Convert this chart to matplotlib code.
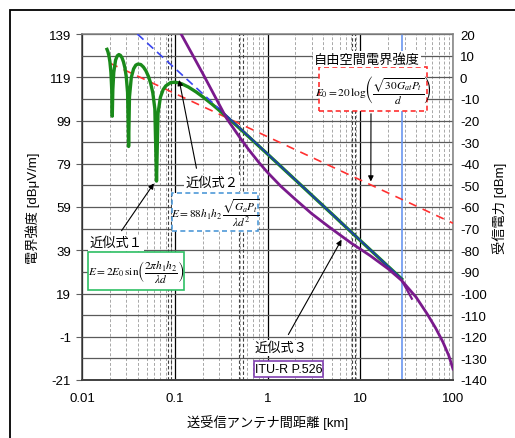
import numpy as np
import matplotlib
matplotlib.use("Agg")
import matplotlib.pyplot as plt
from matplotlib.patches import Rectangle
from matplotlib.ticker import FixedLocator, NullFormatter

plt.rcParams['font.family'] = ['Liberation Sans', 'Noto Sans CJK JP']
plt.rcParams['mathtext.fontset'] = 'stix'
plt.rcParams['axes.unicode_minus'] = False

# ---- data: distance [km] vs field strength [dBuV/m] ----
free_d = [0.02, 100]
free_e = [125.5, 51.5]

approx2_d = [0.0395, 0.3, 28]
approx2_e = [139.0, 104.5, 25.7]

approx1_d = [0.0186, 0.019, 0.0195, 0.020, 0.0205, 0.0209, 0.0212, 0.0215, 0.022,
             0.023, 0.024, 0.025, 0.026, 0.027, 0.028, 0.029, 0.030, 0.031, 0.0318,
             0.0325, 0.034, 0.036, 0.038, 0.040, 0.043, 0.046, 0.049, 0.052, 0.055,
             0.058, 0.061, 0.0636, 0.066, 0.07, 0.075, 0.08, 0.09, 0.10, 0.11, 0.12,
             0.14, 0.17, 0.2, 0.25, 0.3, 0.4, 0.5, 0.7, 1, 2, 5, 10, 28]
approx1_e = [131.9, 130.9, 129.0, 126.1, 121.3, 113.7, 101.0, 113.3, 121.2,
             126.9, 128.9, 129.5, 129.1, 128.0, 126.1, 123.4, 119.3, 111.9, 87.0,
             109.9, 118.9, 122.9, 124.6, 125.1, 124.9, 123.7, 121.9, 119.4, 116.2,
             111.8, 104.4, 71.0, 102.3, 109.7, 113.3, 115.0, 116.5, 116.7, 116.4, 115.9,
             114.5, 112.2, 110.0, 106.7, 103.8, 99.1, 95.4, 89.6, 83.5, 71.5, 55.6, 43.5, 25.7]

itu_d = [0.115, 0.15, 0.2, 0.27, 0.362, 0.5, 0.62, 0.8, 1.0, 1.4, 2.0, 3.0, 4.7,
         8.0, 12.7, 20, 28, 40, 52.6, 65, 78, 90, 100]
itu_e = [139.6, 130.6, 120.8, 110.3, 100.0, 91.3, 85.8, 79.8, 75.0, 68.5, 62.5, 55.9,
         49.5, 42.3, 36.6, 30.4, 25.0, 17.3, 9.6, 3.0, -3.5, -9.7, -15.9]
itu_hook_d = [28, 32, 36]
itu_hook_e = [25.0, 20.6, 16.6]

marker_km = 28
extra_lines_km = [0.085, 0.091, 0.49, 0.54, 8.1, 8.8]

left_ticks = np.arange(-21, 140, 20)
right_ticks = np.arange(-140, 21, 10)

W, H = 515, 439
fig = plt.figure(figsize=(W / 100, H / 100), dpi=100)

def fx(x):
    return x / W

def fy(y):
    return 1 - y / H

ax = fig.add_axes([fx(82), fy(381), fx(453) - fx(82), fy(35) - fy(381)])
ax.set_xscale('log')
ax.set_xlim(0.01, 100)
ax.set_ylim(-21, 139)

# grid
ax.set_yticks(left_ticks)
ax.yaxis.set_minor_locator(FixedLocator(np.arange(-11, 139, 20)))
ax.grid(True, which='both', axis='y', color='#5a5a5a', lw=0.9)
ax.grid(True, which='major', axis='x', color='black', lw=0.9)
ax.grid(True, which='minor', axis='x', color='#a8a8a8', lw=0.7, ls=(0, (3, 2)))
for xv in extra_lines_km:
    ax.axvline(xv, color='#404040', lw=0.8, ls=(0, (3, 2)), zorder=0.9)
ax.set_axisbelow(True)
ax.xaxis.set_minor_formatter(NullFormatter())
ax.set_xticks([0.01, 0.1, 1, 10, 100])
ax.set_xticklabels(['0.01', '0.1', '1', '10', '100'])
ax.tick_params(axis='x', which='both', length=0, pad=9, labelsize=9.5)
ax.tick_params(axis='y', which='major', length=4, color='#606060', pad=4, labelsize=9.5)
ax.tick_params(axis='y', which='minor', length=0)
for s in ax.spines.values():
    s.set_color('#808080')
    s.set_linewidth(1.1)
ax.spines['bottom'].set_color('#404040')
ax.spines['bottom'].set_linewidth(1.4)
ax.spines['left'].set_color('#404040')

# curves
ax.axvline(marker_km, color='#6a96f0', lw=1.2, zorder=2)
ax.plot(free_d, free_e, color='#ff3030', lw=1.2, ls=(0, (5, 4)), zorder=3)
ax.plot(approx1_d, approx1_e, color='#1a8a1a', lw=2.4, zorder=4)
ax.plot(approx2_d[:2], approx2_e[:2], color='#3a46f0', lw=1.2, ls=(0, (5, 3)), zorder=5)
ax.plot(approx2_d[1:], approx2_e[1:], color='#1f3fa8', lw=1.3, zorder=5)
ax.plot(itu_d, itu_e, color='#7a1a8c', lw=2.0, zorder=6)
ax.plot(itu_hook_d, itu_hook_e, color='#7a1a8c', lw=1.6, zorder=6)

ax.set_xlabel('送受信アンテナ間距離 [km]', fontsize=9.5, labelpad=7)
ax.set_ylabel('電界強度 [dBμV/m]', fontsize=9.5, labelpad=6)

ax2 = ax.twinx()
ax2.set_ylim(-140, 20)
ax2.set_yticks(right_ticks)
ax2.tick_params(axis='y', length=0, pad=5, labelsize=9.5)
for s in ax2.spines.values():
    s.set_visible(False)
ax2.set_ylabel('受信電力 [dBm]', fontsize=9.5, labelpad=4)

# outer frame (cut off at right and bottom)
fig.patches.append(Rectangle((fx(10), fy(460)), 1.2, fy(11) - fy(460), transform=fig.transFigure,
                             fill=False, ec='black', lw=1.3))

# annotation boxes
def box(x0, y0, x1, y1, ec, ls='-'):
    fig.patches.append(Rectangle((fx(x0), fy(y1)), fx(x1) - fx(x0), fy(y0) - fy(y1),
                                 transform=fig.transFigure, fc='white', ec=ec, lw=1.2,
                                 ls=ls, zorder=7))

box(88, 253, 184, 291, '#2fc065')
fig.text(fx(136), fy(272), r'$E=2E_0\,\sin\!\left(\dfrac{2\pi h_1h_2}{\lambda d}\right)$',
         ha='center', va='center', fontsize=8.2, zorder=8)
box(172, 194, 258, 232, '#4f9ad8', ls=(0, (3, 2)))
fig.text(fx(215), fy(213), r'$E=88h_1h_2\,\dfrac{\sqrt{G_aP_t}}{\lambda d^2}$',
         ha='center', va='center', fontsize=8.2, zorder=8)
box(319, 68, 427, 112, '#ff3030', ls=(0, (3, 2)))
fig.text(fx(373), fy(90), r'$E_0=20\,\log\!\left(\dfrac{\sqrt{30G_{at}P_t}}{d}\right)$',
         ha='center', va='center', fontsize=8.2, zorder=8)
box(254, 362, 323, 378, '#8040b0')
fig.text(fx(288.5), fy(370), 'ITU-R P.526', ha='center', va='center', fontsize=9, zorder=8)

lab = dict(ha='center', va='center', fontsize=9.5, zorder=8,
           bbox=dict(fc='white', ec='none', pad=1))
fig.text(fx(116), fy(244), '近似式１', **lab)
fig.text(fx(212), fy(184), '近似式２', **lab)
fig.text(fx(281), fy(349), '近似式３', **lab)
fig.text(fx(367), fy(60), '自由空間電界強度', **lab)

arw = dict(arrowstyle='-|>', color='black', lw=0.8, mutation_scale=8)
ax.annotate('', xy=(0.062, 71), xycoords='data', xytext=(fx(120), fy(234)),
            textcoords='figure fraction', arrowprops=arw, zorder=9)
ax.annotate('', xy=(0.11, 119), xycoords='data', xytext=(fx(197), fy(172)),
            textcoords='figure fraction', arrowprops=arw, zorder=9)
ax.annotate('', xy=(6.5, 45), xycoords='data', xytext=(fx(287), fy(338)),
            textcoords='figure fraction', arrowprops=arw, zorder=9)
ax.annotate('', xy=(13, 69.5), xycoords='data', xytext=(fx(371), fy(112)),
            textcoords='figure fraction', arrowprops=arw, zorder=9)

fig.savefig('out.png', dpi=100)
